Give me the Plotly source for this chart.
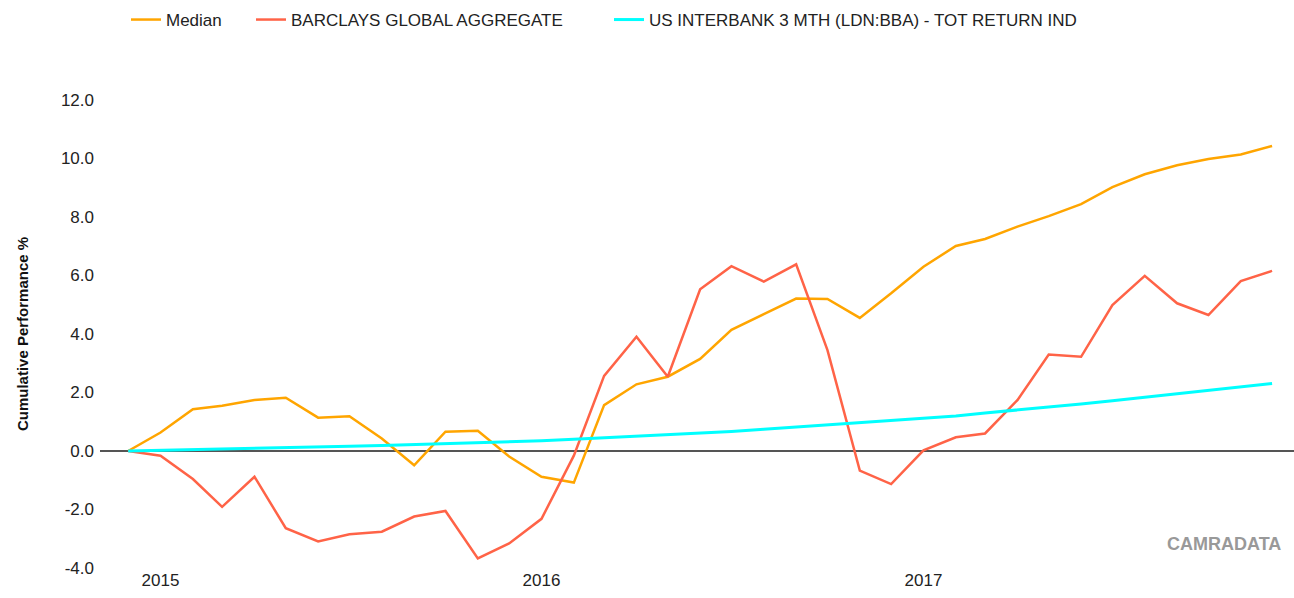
import pandas as pd
import plotly.graph_objects as go

dates = pd.date_range("2014-12-01", periods=37, freq="MS")

median = [0.00, 0.63, 1.43, 1.55, 1.74, 1.82, 1.14, 1.19, 0.43, -0.49, 0.66, 0.69, -0.19,
          -0.88, -1.08, 1.57, 2.28, 2.54, 3.15, 4.14, 4.68, 5.21, 5.20, 4.55, 5.39,
          6.30, 7.01, 7.25, 7.67, 8.03, 8.44, 9.02, 9.46, 9.77, 9.98, 10.14, 10.43]
barclays = [0.00, -0.16, -0.96, -1.91, -0.88, -2.64, -3.09, -2.85, -2.76, -2.24, -2.05, -3.67, -3.16,
            -2.32, -0.16, 2.57, 3.91, 2.54, 5.53, 6.32, 5.79, 6.38, 3.45, -0.67, -1.13,
            0.02, 0.47, 0.60, 1.74, 3.30, 3.22, 4.99, 5.99, 5.05, 4.65, 5.81, 6.16]
libor = [0.00, 0.02, 0.04, 0.06, 0.08, 0.10, 0.13, 0.16, 0.19, 0.22, 0.25, 0.28, 0.31,
         0.35, 0.40, 0.45, 0.50, 0.55, 0.61, 0.67, 0.74, 0.82, 0.89, 0.96, 1.03,
         1.11, 1.20, 1.30, 1.40, 1.50, 1.61, 1.72, 1.84, 1.96, 2.07, 2.19, 2.31]

names = ["Median", "BARCLAYS GLOBAL AGGREGATE", "US INTERBANK 3 MTH (LDN:BBA) - TOT RETURN IND"]
colors = ["#FFA500", "#FF6347", "#00FFFF"]
widths = [2.5, 2.5, 3]
year_ticks = ["2015-01-01", "2016-01-01", "2017-01-01"]
y_tickvals = [-4, -2, 0, 2, 4, 6, 8, 10, 12]
y_ticktext = ["-4.0", "-2.0", "0.0", "2.0", "4.0", "6.0", "8.0", "10.0", "12.0"]
legend_ids = ["legend", "legend2", "legend3"]
legend_x_px = [126, 251, 609]

FONT = "Liberation Sans, Arial, sans-serif"
W, H = 1294, 598

fig = go.Figure()
for vals, name, col, w, lg in zip([median, barclays, libor], names, colors, widths, legend_ids):
    fig.add_trace(go.Scatter(x=dates, y=vals, mode="lines", name=name, legend=lg,
                             line=dict(color=col, width=w)))

legend_common = dict(orientation="h", xref="container", yref="container",
                     xanchor="left", y=1 - 20 / H, yanchor="middle",
                     font=dict(family=FONT, size=17, color="#222222"),
                     bgcolor="rgba(0,0,0,0)")
layout_legends = {}
for lg, px in zip(legend_ids, legend_x_px):
    layout_legends[lg] = dict(legend_common, x=px / W)

fig.update_layout(
    width=W, height=H,
    margin=dict(l=100, r=0, t=100, b=30),
    paper_bgcolor="white", plot_bgcolor="white",
    font=dict(family=FONT, size=16, color="#222222"),
    showlegend=True,
    xaxis=dict(type="date", range=["2014-11-04", "2017-12-22"],
               tickvals=year_ticks, tickformat="%Y",
               showgrid=False, zeroline=False, showline=False, ticks="",
               tickfont=dict(family=FONT, size=17, color="#222222")),
    yaxis=dict(range=[-4, 12], tickvals=y_tickvals, ticktext=y_ticktext,
               showgrid=False, zeroline=True, zerolinecolor="#555555", zerolinewidth=1.5,
               showline=False, ticks="", ticklabelstandoff=5,
               tickfont=dict(family=FONT, size=17, color="#222222"),
               title=dict(text="<b>Cumulative Performance %</b>",
                          font=dict(family=FONT, size=15, color="#111111"),
                          standoff=28)),
    **layout_legends,
)

fig.add_annotation(text="<b>CAMRADATA</b>", xref="paper", yref="paper",
                   x=0.991, y=0.051, xanchor="right", yanchor="middle", showarrow=False,
                   font=dict(family=FONT, size=18, color="#999999"))

fig.write_html("out.html", config={"displayModeBar": False},
               post_script="document.body.style.margin='0';")
